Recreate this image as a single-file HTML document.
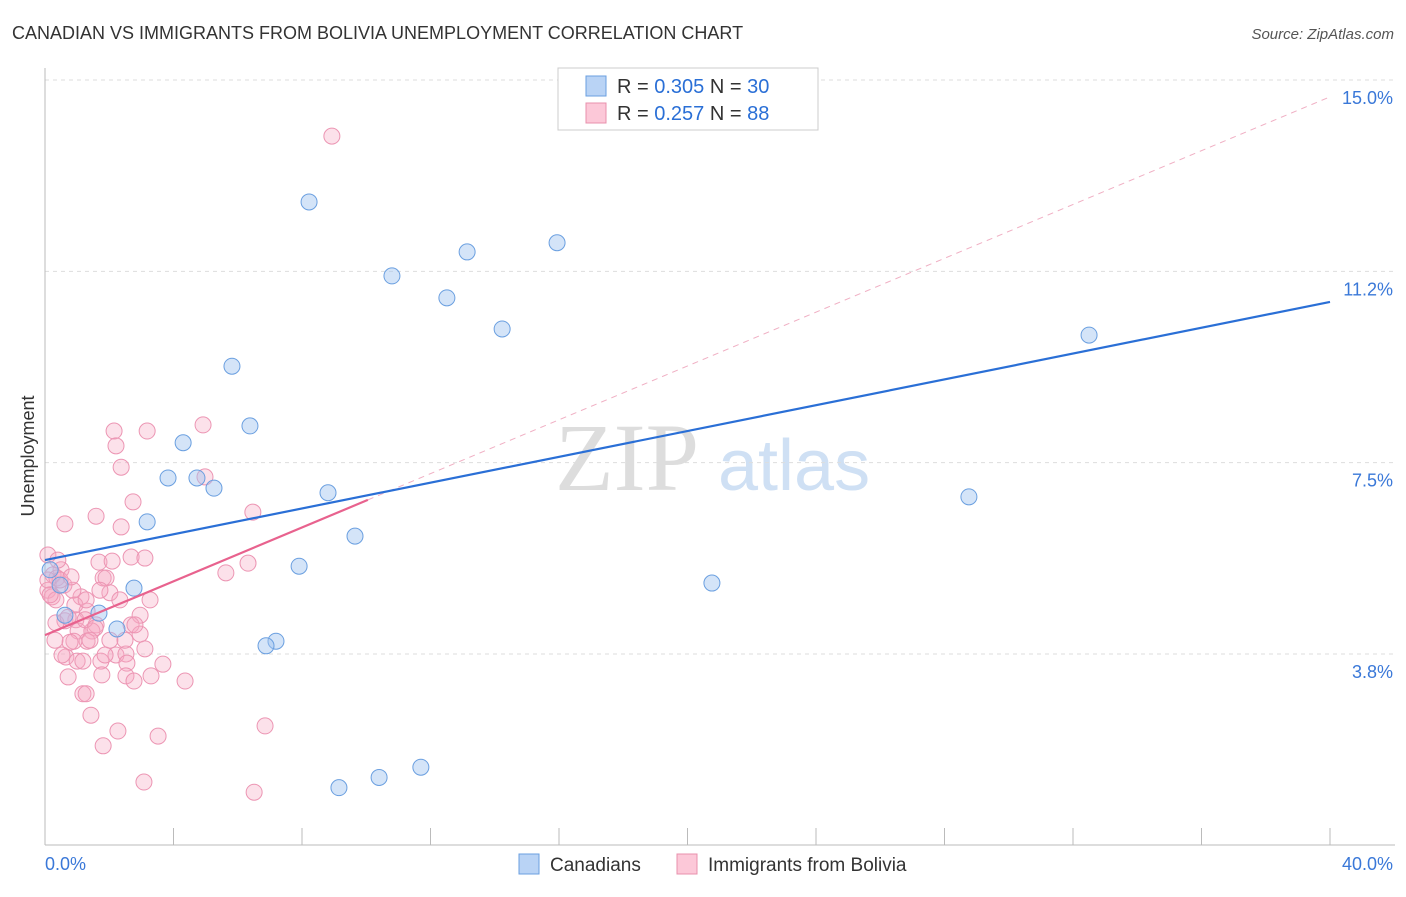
<!DOCTYPE html>
<html><head><meta charset="utf-8"><style>
body{margin:0;background:#fff;font-family:"Liberation Sans",sans-serif}
</style></head><body>
<svg id="c" width="1406" height="892" xmlns="http://www.w3.org/2000/svg" font-family="Liberation Sans, sans-serif">
<text x="12" y="39" font-size="18" fill="#333">CANADIAN VS IMMIGRANTS FROM BOLIVIA UNEMPLOYMENT CORRELATION CHART</text>
<text x="1394" y="39" font-size="15" fill="#555" font-style="italic" text-anchor="end">Source: ZipAtlas.com</text>
<text x="34" y="456" font-size="18" fill="#333" text-anchor="middle" transform="rotate(-90 34 456)">Unemployment</text>
<text x="555" y="490" font-size="96" fill="#ddd" font-family="Liberation Serif, serif">ZIP</text>
<text x="718" y="490" font-size="72" fill="#cfe0f4">atlas</text>
<g id="grid"></g><g id="axes"></g><g id="pts"></g><g id="lines"></g>
<g>
<rect x="558" y="68" width="260" height="62" fill="#fff" stroke="#ccc"/>
<rect x="586" y="76" width="20" height="20" fill="#b9d3f5" stroke="#6a9fe0"/>
<rect x="586" y="103" width="20" height="20" fill="#fcc8d8" stroke="#e890ac"/>
<text x="617" y="93" font-size="20" fill="#333">R = <tspan fill="#2a6fd6">0.305</tspan>   N = <tspan fill="#2a6fd6">30</tspan></text>
<text x="617" y="120" font-size="20" fill="#333">R =  <tspan fill="#2a6fd6">0.257</tspan>   N = <tspan fill="#2a6fd6">88</tspan></text>
</g>
<g>
<rect x="519" y="854" width="20" height="20" fill="#b9d3f5" stroke="#6a9fe0"/>
<text x="550" y="871" font-size="19" fill="#333">Canadians</text>
<rect x="677" y="854" width="20" height="20" fill="#fcc8d8" stroke="#e890ac"/>
<text x="708" y="871" font-size="19" fill="#333">Immigrants from Bolivia</text>
</g>
</svg>
<script>
const yTicks=[3.75,7.5,11.25,15];
const yTickLabels=["3.8%","7.5%","11.2%","15.0%"];
const xTickLabels=["0.0%","40.0%"];
const blueX=[8.22,13.14,15.94,10.80,12.51,14.23,32.50,5.82,6.38,4.30,3.83,4.73,5.26,8.81,28.76,3.18,9.65,7.91,20.76,2.77,1.68,0.62,2.24,7.19,6.88,11.70,10.40,9.15,0.16,0.47];
const blueY=[12.61,11.63,11.81,11.16,10.73,10.12,10.00,9.39,8.22,7.89,7.20,7.20,7.00,6.91,6.83,6.34,6.06,5.47,5.14,5.04,4.55,4.51,4.24,4.00,3.91,1.53,1.33,1.13,5.40,5.10];
const pinkX=[8.93,4.92,2.15,3.18,2.21,2.37,4.98,2.74,0.62,1.59,6.47,2.37,0.09,2.68,3.11,1.68,2.09,6.32,5.63,0.50,1.81,1.90,0.25,0.37,0.09,0.59,2.02,0.22,1.12,0.87,2.96,1.31,0.62,0.34,0.96,1.59,1.03,1.46,2.68,1.31,0.90,0.78,2.96,1.74,2.21,2.52,3.11,0.65,1.00,1.18,2.55,3.67,1.77,0.72,2.52,2.77,3.30,4.36,1.18,1.28,1.43,2.27,1.81,3.52,6.85,3.08,6.51,0.34,0.16,0.47,1.25,1.56,0.93,0.72,2.02,0.31,1.71,1.40,0.53,0.81,0.40,2.33,1.28,1.87,2.49,2.80,3.27,0.09];
const pinkY=[13.90,8.24,8.12,8.12,7.83,7.41,7.22,6.73,6.30,6.45,6.53,6.24,5.69,5.65,5.63,5.55,5.57,5.53,5.34,5.40,5.24,5.24,5.30,5.24,5.00,5.10,4.95,4.87,4.87,5.00,4.51,4.59,4.40,4.36,4.42,4.32,4.20,4.20,4.32,4.00,4.00,3.98,4.14,3.61,3.73,3.75,3.85,3.69,3.61,3.61,3.57,3.55,3.34,3.30,3.32,3.22,3.32,3.22,2.97,2.97,2.55,2.24,1.95,2.14,2.34,1.24,1.04,4.81,4.91,5.20,4.42,4.26,4.71,4.47,4.02,4.02,5.00,4.02,3.73,5.26,5.59,4.81,4.81,3.73,4.02,4.32,4.81,5.20];
const blueTrend=[[0,5.59],[40,10.65]];
const pinkTrend=[[0,4.12],[10.05,6.77]];
const pinkDash=[[10.05,6.77],[40,14.67]];
const NS="http://www.w3.org/2000/svg";
const X=v=>45+v*32.125, Y=v=>80+(15-v)*51.02;
function mk(t,p,a){const e=document.createElementNS(NS,t);for(const k in a)e.setAttribute(k,a[k]);p.appendChild(e);return e;}
const grid=document.getElementById('grid'),axes=document.getElementById('axes'),pts=document.getElementById('pts'),lines=document.getElementById('lines');
yTicks.forEach((t,i)=>{
 const l=mk('line',grid,{x1:45,x2:1395,y1:Y(t),y2:Y(t),stroke:'#ddd','stroke-dasharray':'4,4'});
 
 
 const tx=mk('text',grid,{x:1393,y:Y(t)+24,'font-size':18,fill:'#3a78d8','text-anchor':'end'});tx.textContent=yTickLabels[i];
 
 
});
mk('line',axes,{x1:45,x2:45,y1:68,y2:845,stroke:'#bbb'});
mk('line',axes,{x1:45,x2:1395,y1:845,y2:845,stroke:'#bbb'});
for(let v=0;v<=40;v+=4){const t=mk('line',axes,{x1:X(v),x2:X(v),y1:828,y2:845,stroke:'#bbb'});
 
 }
const xl0=mk('text',axes,{x:45,y:870,'font-size':18,fill:'#3a78d8'});xl0.textContent=xTickLabels[0];


const xl1=mk('text',axes,{x:1393,y:870,'font-size':18,fill:'#3a78d8','text-anchor':'end'});xl1.textContent=xTickLabels[1];


pinkX.forEach((x,i)=>{const c=mk('circle',pts,{cx:X(x),cy:Y(pinkY[i]),r:8,fill:'rgba(245,170,195,0.35)',stroke:'#ec95b3','stroke-width':1});
 
 });
blueX.forEach((x,i)=>{const c=mk('circle',pts,{cx:X(x),cy:Y(blueY[i]),r:8,fill:'rgba(160,195,240,0.45)',stroke:'#6a9fe0','stroke-width':1});
 
 });
const d=mk('line',lines,{x1:X(pinkDash[0][0]),y1:Y(pinkDash[0][1]),x2:X(pinkDash[1][0]),y2:Y(pinkDash[1][1]),stroke:'#f0b0c4','stroke-dasharray':'6,5'});


const b=mk('line',lines,{x1:X(blueTrend[0][0]),y1:Y(blueTrend[0][1]),x2:X(blueTrend[1][0]),y2:Y(blueTrend[1][1]),stroke:'#2a6fd6','stroke-width':2.2});


const p=mk('line',lines,{x1:X(pinkTrend[0][0]),y1:Y(pinkTrend[0][1]),x2:X(pinkTrend[1][0]),y2:Y(pinkTrend[1][1]),stroke:'#e8628e','stroke-width':2.2});


</script>
</body></html>
